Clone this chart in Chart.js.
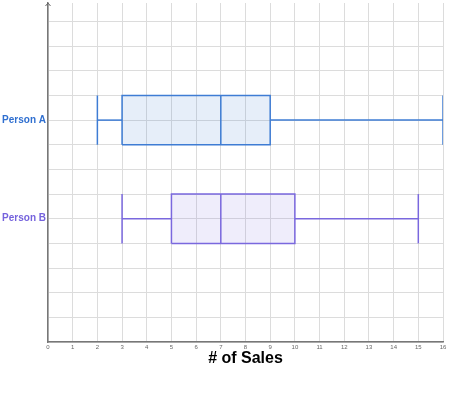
<!DOCTYPE html>
<html>
<head>
<meta charset="utf-8">
<script src="https://cdn.jsdelivr.net/npm/chart.js@4/dist/chart.umd.min.js"></script>
<style>
  html, body { margin: 0; padding: 0; background: #fff; }
  #wrap { width: 449px; height: 395px; }
</style>
</head>
<body>
<div id="wrap"><canvas id="myChart"></canvas></div>
<script>
// box plot values (number of sales)
const people = ['Person A', 'Person B'];
const rowPos = [9, 5];
const mins = [2, 3];
const q1s = [3, 5];
const medians = [7, 7];
const q3s = [9, 10];
const maxs = [16, 15];
const xTicks = [0, 16];

const strokes = ['rgb(62, 124, 212)', 'rgb(122, 104, 222)'];
const fills = ['rgba(62, 124, 212, 0.13)', 'rgba(122, 104, 222, 0.12)'];
const labelColors = ['#2f6fd0', '#7563dd'];

function line(pts, color, w) {
    return {
        data: pts.map(p => ({ x: p[0], y: p[1] })),
        showLine: true,
        borderColor: color,
        borderWidth: w,
        pointRadius: 0,
        fill: false
    };
}

function makeBoxes() {
    var sets = [];
    people.forEach((name, i) => {
        var c = rowPos[i];
        var box = line([[q1s[i], c - 1], [q3s[i], c - 1], [q3s[i], c + 1], [q1s[i], c + 1], [q1s[i], c - 1]], strokes[i], 1.5);
        box.fill = 'shape';
        box.backgroundColor = fills[i];
        sets.push(box);
        sets.push(line([[mins[i], c], [q1s[i], c]], strokes[i], 1.5));
        sets.push(line([[q3s[i], c], [maxs[i], c]], strokes[i], 1.5));
        sets.push(line([[mins[i], c - 1], [mins[i], c + 1]], strokes[i], 1.5));
        sets.push(line([[maxs[i], c - 1], [maxs[i], c + 1]], strokes[i], 1.5));
        sets.push(line([[medians[i], c - 1], [medians[i], c + 1]], strokes[i], 1.5));
    });
    return sets;
}

// little arrow on top of the y axis
const arrowTop = {
    id: 'arrowTop',
    afterDraw(chart) {
        const ctx = chart.ctx;
        const x = chart.chartArea.left;
        const y = chart.chartArea.top;
        ctx.save();
        ctx.strokeStyle = '#666';
        ctx.lineWidth = 1;
        ctx.beginPath();
        ctx.moveTo(x - 2.5, y + 3);
        ctx.lineTo(x, y);
        ctx.lineTo(x + 2.5, y + 3);
        ctx.stroke();
        ctx.restore();
    }
};

const config = {
    type: 'scatter',
    data: { datasets: makeBoxes() },
    options: {
        responsive: true,
        maintainAspectRatio: false,
        animation: false,
        layout: { padding: { top: 3, right: 6, bottom: 24, left: 0 } },
        plugins: { legend: { display: false }, tooltip: { enabled: false } },
        scales: {
            x: {
                type: 'linear',
                min: xTicks[0],
                max: xTicks[1],
                afterFit(scale) { scale.height = 29; },
                ticks: { stepSize: 1, padding: 2, color: '#666', font: { family: 'Liberation Sans', size: 6 } },
                grid: { color: '#dcdcdc', drawTicks: false },
                border: { color: '#777', width: 1.5 },
                title: { display: true, text: '# of Sales', color: '#000', padding: { top: 0, bottom: 3 },
                    font: { family: 'Liberation Sans', size: 16, weight: 'bold' } }
            },
            y: {
                type: 'linear',
                min: 0,
                max: 13.75,
                afterFit(scale) {
                    scale.width = 48;
                    scale.paddingTop = 0;
                    scale.paddingBottom = 0;
                },
                ticks: {
                    stepSize: 1,
                    includeBounds: false,
                    padding: 2,
                    callback: v => { var k = rowPos.indexOf(v); return k < 0 ? '' : people[k]; },
                    color: c => { var k = rowPos.indexOf(c.tick.value); return k < 0 ? '#666' : labelColors[k]; },
                    font: { family: 'Liberation Sans', size: 10, weight: 'bold' }
                },
                grid: { color: '#dcdcdc', drawTicks: false },
                border: { color: '#777', width: 1.5 }
            }
        }
    },
    plugins: [arrowTop]
};

const myChart = new Chart(document.getElementById('myChart'), config);
</script>
</body>
</html>
